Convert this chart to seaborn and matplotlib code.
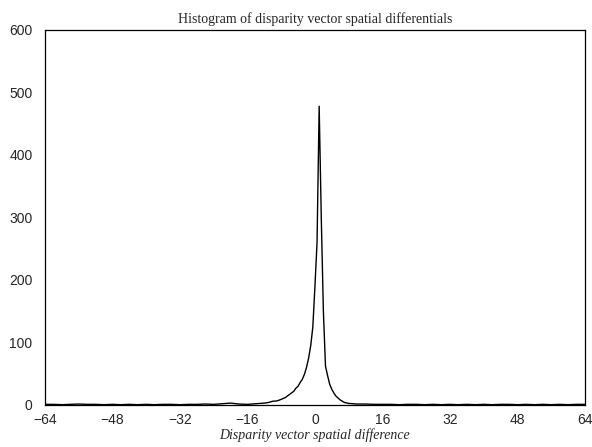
import matplotlib
matplotlib.use("Agg")
import matplotlib.pyplot as plt
import seaborn as sns
import pandas as pd

sns.set_style("white")

# far left tail, step 2
x_left = [-64, -62, -60, -58, -56, -54, -52, -50, -48, -46, -44, -42, -40,
          -38, -36, -34, -32, -30, -28, -26, -24, -22, -20, -18, -16, -14]
n_left = [1, 1, 0.5, 1, 1.5, 1, 1, 0.5, 1, 0.5, 1, 0.5, 1,
          0.5, 1, 1, 0.5, 1, 1, 1.5, 1, 2, 3, 1.5, 1, 2]

# near the peak, finer steps
x_mid = [-13, -12, -11, -10, -9, -8, -7, -6, -5, -4.5, -4, -3.5, -3, -2.5,
         -2, -1.5, -1, -0.5, 0, 0.5, 1, 1.5, 2, 2.5, 3, 3.5, 4, 4.5,
         5, 6, 7, 8, 9]
n_mid = [2.5, 3, 4, 6, 6.5, 9, 12, 17, 22, 27, 30, 36, 41, 49,
         60, 75, 95, 125, 190, 260, 478, 300, 150, 62, 47, 33, 25, 19,
         14, 8, 4, 2.5, 2]

# far right tail, step 2
x_right = [10, 12, 14, 16, 18, 20, 22, 24, 26, 28, 30, 32, 34, 36, 38,
           40, 42, 44, 46, 48, 50, 52, 54, 56, 58, 60, 62, 64]
n_right = [1.5, 1.5, 1, 1, 1, 0.5, 1, 1, 0.5, 1, 0.5, 1, 0.5, 1, 0.5,
           1, 0.5, 1, 1, 0.5, 1, 0.5, 1, 0.5, 1, 0.5, 1, 1]

x_ticks = [-64, -48, -32, -16, 0, 16, 32, 48, 64]
y_ticks = [0, 100, 200, 300, 400, 500, 600]

df = pd.DataFrame({
    "diff": x_left + x_mid + x_right,
    "count": n_left + n_mid + n_right,
})

fig = plt.figure(figsize=(5.92, 4.47), dpi=100)
ax = fig.add_axes([0.076, 0.094, 0.912, 0.839])

sns.lineplot(data=df, x="diff", y="count", color="black", linewidth=1.0, ax=ax)

ax.set_xlim(-64, 64)
ax.set_ylim(0, 600)
ax.set_xticks(x_ticks)
ax.set_yticks(y_ticks)
ax.tick_params(direction="in", length=4, width=0.8, labelsize=10)
ax.tick_params(axis="x", pad=6)
ax.tick_params(axis="y", pad=9)
for lab in ax.get_xticklabels() + ax.get_yticklabels():
    lab.set_family(["Liberation Sans", "DejaVu Sans"])

for side in ["left", "right", "top", "bottom"]:
    ax.spines[side].set_color("black")
    ax.spines[side].set_linewidth(0.9)

ax.set_title("Histogram of disparity vector spatial differentials",
             family="Liberation Serif", fontsize=10, pad=5)
ax.set_xlabel("Disparity vector spatial difference",
              family="Liberation Serif", style="italic", fontsize=10, labelpad=1)
ax.set_ylabel("")

plt.savefig("out.png", dpi=100)
plt.close()
